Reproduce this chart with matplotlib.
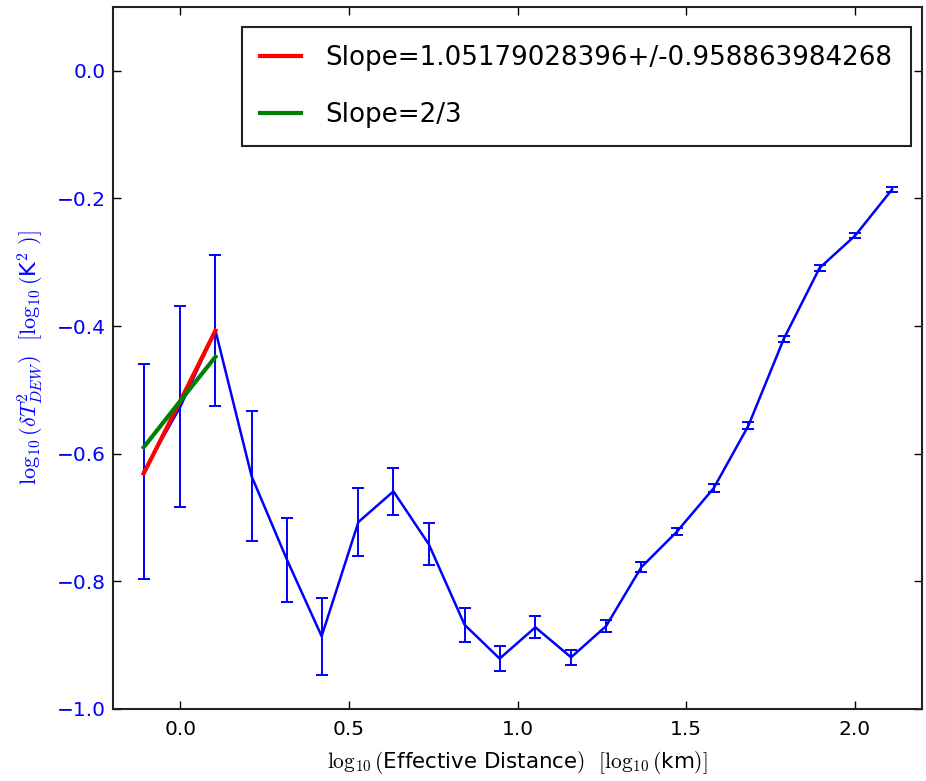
import matplotlib
matplotlib.use("Agg")
import matplotlib.pyplot as plt

plt.rcParams['mathtext.fontset'] = 'cm'
plt.rcParams['font.family'] = ['DejaVu Sans']

# Data
dist = [-0.109, 0.0, 0.104, 0.211, 0.316, 0.419, 0.528, 0.632, 0.737, 0.843, 0.947,
        1.053, 1.159, 1.263, 1.367, 1.473, 1.582, 1.685, 1.790, 1.896, 2.002, 2.111]
var = [-0.628, -0.526, -0.407, -0.635, -0.766, -0.886, -0.707, -0.659, -0.742, -0.868, -0.921,
       -0.872, -0.919, -0.870, -0.778, -0.722, -0.654, -0.556, -0.420, -0.309, -0.258, -0.186]
err = [0.168, 0.158, 0.118, 0.102, 0.066, 0.060, 0.053, 0.037, 0.033, 0.027, 0.019,
       0.017, 0.012, 0.010, 0.008, 0.006, 0.006, 0.006, 0.005, 0.005, 0.004, 0.004]

fit_x = [-0.109, 0.0, 0.104]
fit_red = [-0.631, -0.517, -0.407]
fit_green = [-0.590, -0.517, -0.448]
red_label = 'Slope=1.05179028396+/-0.958863984268'
green_label = 'Slope=2/3'

xticks = [0.0, 0.5, 1.0, 1.5, 2.0]
yticks = [-1.0, -0.8, -0.6, -0.4, -0.2, 0.0]

fig = plt.figure(figsize=(9.26, 7.81), dpi=100)
ax = fig.add_axes([113/926, 1-709/781, (922-113)/926, (709-7)/781])

ax.errorbar(dist, var, yerr=err, color='b', lw=1.8, elinewidth=1.4,
            capsize=4, capthick=1.4, zorder=2)
ax.plot(fit_x, fit_red, color='r', lw=3, label=red_label, zorder=3)
ax.plot(fit_x, fit_green, color='g', lw=3, label=green_label, zorder=3)

ax.set_xlim(-0.2, 2.2)
ax.set_ylim(-1.0, 0.1)
ax.set_xticks(xticks)
ax.set_yticks(yticks)
ax.set_xticklabels(['%.1f' % t for t in xticks])
ax.set_yticklabels([('\u2212%.1f' % abs(t)) if t < 0 else '%.1f' % t for t in yticks])

ax.tick_params(direction='in', length=6, width=1, top=True, right=True,
               labelsize=14.5)
ax.tick_params(axis='x', pad=8)
ax.tick_params(axis='y', pad=5, labelcolor='b')
for s in ax.spines.values():
    s.set_linewidth(1.5)
    s.set_color('#222222')

ax.set_xlabel(r'$\log_{10}($Effective Distance$)$  $[\log_{10}($km$)]$', fontsize=15.4, labelpad=7)
ax.set_ylabel(r'$\log_{10}(\delta T^2_{DEW})$  $[\log_{10}($K$^2$ $)]$', fontsize=16,
              color='b', labelpad=9)

leg = ax.legend(loc='upper right', bbox_to_anchor=((911-113)/809, (709-26.5)/702),
                borderaxespad=0, fontsize=18.8, fancybox=False, framealpha=1,
                handlelength=1.55, handletextpad=0.95, labelspacing=1.2, borderpad=0.7)
leg.get_frame().set_edgecolor('#222222')
leg.get_frame().set_linewidth(1.5)

fig.savefig('out.png', dpi=100)
